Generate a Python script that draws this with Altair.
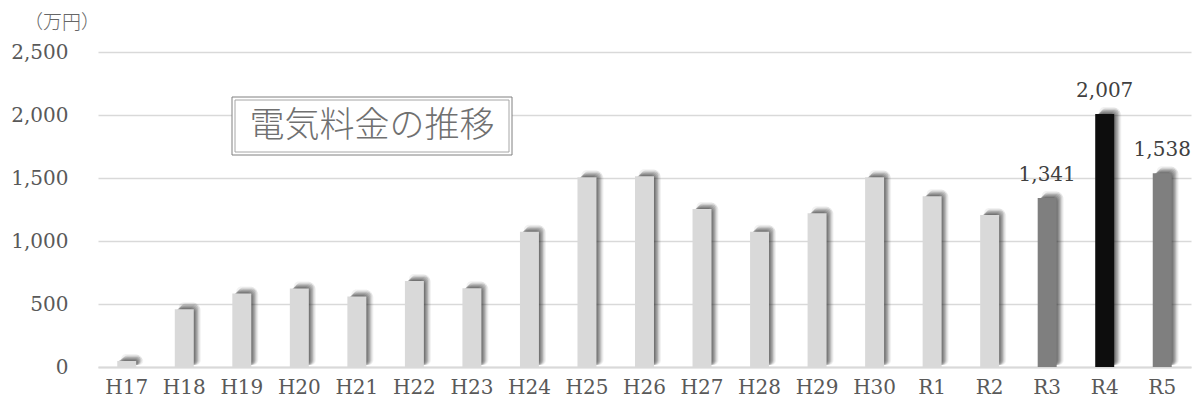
import altair as alt
import pandas as pd

years = ["H17", "H18", "H19", "H20", "H21", "H22", "H23", "H24", "H25", "H26",
         "H27", "H28", "H29", "H30", "R1", "R2", "R3", "R4", "R5"]
costs = [48, 459, 584, 623, 560, 682, 625, 1074, 1506, 1514,
         1253, 1074, 1221, 1506, 1356, 1206, 1341, 2007, 1538]
labeled_years = ["R3", "R4", "R5"]
y_ticks = [0, 500, 1000, 1500, 2000, 2500]
title_text = "電気料金の推移"
unit_text = "（万円）"

style_colors = {"R3": "#7f7f7f", "R4": "#0d0d0d", "R5": "#7f7f7f"}
bar_colors = [style_colors.get(y, "#d9d9d9") for y in years]

df = pd.DataFrame({"year": years, "cost": costs})

W, H = 1093, 315
Y_MAX = 2500
PX = Y_MAX / H  # data units per pixel
FONT = "DejaVu Serif"

x_enc = alt.X("year:N", sort=years,
              scale=alt.Scale(paddingInner=0.67, paddingOuter=0.335),
              axis=alt.Axis(title=None, labelAngle=0, labelFont=FONT, labelFontSize=20,
                            labelColor="#595959", ticks=False, domain=True,
                            domainColor="#d9d9d9", domainWidth=2, labelPadding=10))
y_scale = alt.Scale(domain=[0, Y_MAX], nice=False)
y_axis = alt.Axis(title=None, values=y_ticks, format=",d", labelFont=FONT,
                  labelFontSize=20, labelColor="#595959", ticks=False, domain=False,
                  labelPadding=30, grid=True, gridColor="#d9d9d9", gridWidth=1.5)
y_enc = alt.Y("cost:Q", scale=y_scale, axis=y_axis)

base = alt.Chart(df)

shadow_layers = []
for dx, dy, op in [(1, 1, 0.18), (2, 2, 0.16), (3, 3, 0.14), (4, 4, 0.12),
                   (5, 5, 0.1), (6, 6, 0.08), (4, 7, 0.06), (7, 4, 0.06)]:
    shadow_layers.append(
        base.transform_calculate(top=f"datum.cost + {dy * PX}", bot=f"{2 * PX}")
        .mark_bar(color="#202020", opacity=op, xOffset=dx, cornerRadius=5)
        .encode(x=x_enc, y=alt.Y("top:Q", scale=y_scale, axis=y_axis), y2="bot:Q")
    )

bars = base.mark_bar().encode(
    x=x_enc, y=y_enc,
    color=alt.Color("year:N", scale=alt.Scale(domain=years, range=bar_colors), legend=None),
)

labels = base.transform_filter(
    alt.FieldOneOfPredicate(field="year", oneOf=labeled_years)
).mark_text(font=FONT, fontSize=20, color="#404040", baseline="bottom", dy=-13).encode(
    x=x_enc, y=y_enc, text=alt.Text("cost:Q", format=",d")
)

box_df = pd.DataFrame({"t": [title_text], "u": [unit_text]})
box_outer = alt.Chart(box_df).mark_rect(fill="white", stroke="#808080", strokeWidth=1).encode(
    x=alt.value(134), x2=alt.value(414), y=alt.value(45), y2=alt.value(103))
box_inner = alt.Chart(box_df).mark_rect(fill="white", stroke="#a6a6a6", strokeWidth=1).encode(
    x=alt.value(137), x2=alt.value(411), y=alt.value(48), y2=alt.value(100))
box_text = alt.Chart(box_df).mark_text(font="Noto Sans CJK JP", fontSize=35, color="#707070",
                                       fontWeight=300, align="center", baseline="middle").encode(
    x=alt.value(274), y=alt.value(74), text="t:N")
unit_label = alt.Chart(box_df).mark_text(font="Noto Sans CJK JP", fontSize=19, color="#666666",
                                         fontWeight=300, align="center", baseline="middle").encode(
    x=alt.value(-36), y=alt.value(-29), text="u:N")

chart = alt.layer(*shadow_layers, bars, labels, box_outer, box_inner, box_text, unit_label).properties(
    width=W, height=H,
    autosize=alt.AutoSizeParams(type="none"),
    padding={"left": 90, "top": 44, "right": 4, "bottom": 40},
).configure_view(stroke=None)

chart.save("out.html", embed_options={"renderer": "svg", "actions": False})
